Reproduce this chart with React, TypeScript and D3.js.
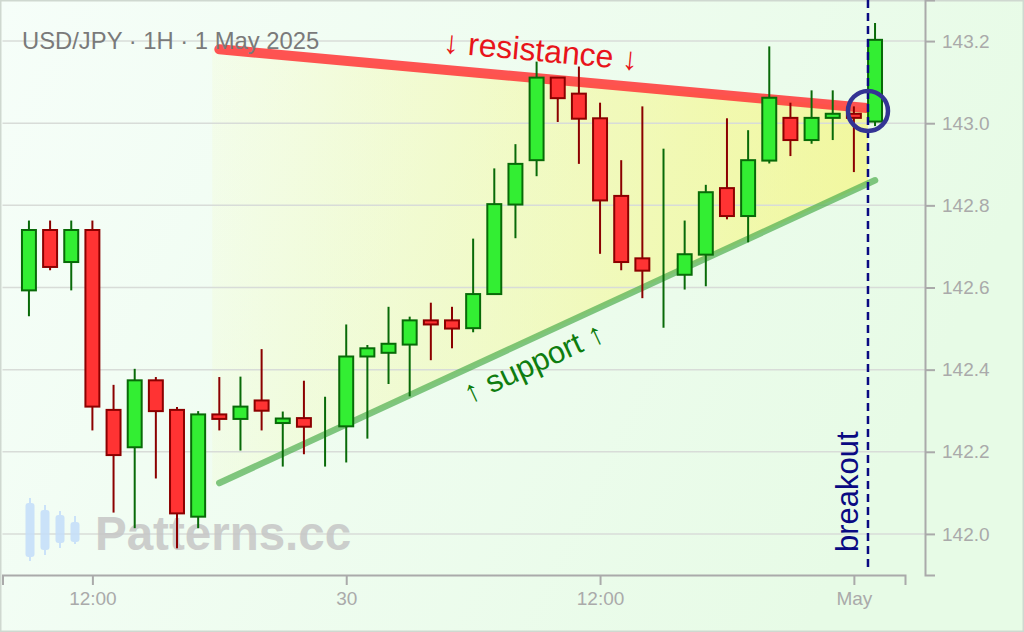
import React, { useEffect, useRef } from 'react'
import * as d3 from 'd3'

const WIDTH = 1024
const HEIGHT = 632
const FONT = '"Liberation Sans", Arial, Helvetica, sans-serif'

// plot box
const X0 = 2.5
const X1 = 905
const Y_AXIS_X = 925
const X_AXIS_Y = 575

// hourly candles, UTC
const hours = [
  '2025-04-29T09:00Z', '2025-04-29T10:00Z', '2025-04-29T11:00Z', '2025-04-29T12:00Z',
  '2025-04-29T13:00Z', '2025-04-29T14:00Z', '2025-04-29T15:00Z', '2025-04-29T16:00Z',
  '2025-04-29T17:00Z', '2025-04-29T18:00Z', '2025-04-29T19:00Z', '2025-04-29T20:00Z',
  '2025-04-29T21:00Z', '2025-04-29T22:00Z', '2025-04-29T23:00Z', '2025-04-30T00:00Z',
  '2025-04-30T01:00Z', '2025-04-30T02:00Z', '2025-04-30T03:00Z', '2025-04-30T04:00Z',
  '2025-04-30T05:00Z', '2025-04-30T06:00Z', '2025-04-30T07:00Z', '2025-04-30T08:00Z',
  '2025-04-30T09:00Z', '2025-04-30T10:00Z', '2025-04-30T11:00Z', '2025-04-30T12:00Z',
  '2025-04-30T13:00Z', '2025-04-30T14:00Z', '2025-04-30T15:00Z', '2025-04-30T16:00Z',
  '2025-04-30T17:00Z', '2025-04-30T18:00Z', '2025-04-30T19:00Z', '2025-04-30T20:00Z',
  '2025-04-30T21:00Z', '2025-04-30T22:00Z', '2025-04-30T23:00Z', '2025-05-01T00:00Z',
  '2025-05-01T01:00Z',
]
const opens = [
  142.593, 142.740, 142.662, 142.740, 142.302, 142.211, 142.374, 142.302, 142.042, 142.291,
  142.280, 142.325, 142.270, 142.282, 142.300, 142.262, 142.432, 142.441, 142.461, 142.520,
  142.520, 142.501, 142.584, 142.802, 142.910, 143.111, 143.072, 143.012, 142.823, 142.671,
  142.650, 142.631, 142.680, 142.842, 142.774, 142.909, 143.013, 142.959, 143.013, 143.023,
  143.004,
]
const highs = [
  142.763, 142.763, 142.763, 142.763, 142.363, 142.402, 142.382, 142.309, 142.299, 142.382,
  142.383, 142.450, 142.298, 142.373, 142.334, 142.510, 142.460, 142.553, 142.529, 142.563,
  142.553, 142.719, 142.890, 142.949, 143.150, 143.111, 143.138, 143.050, 142.910, 143.041,
  142.938, 142.763, 142.850, 143.012, 142.983, 143.187, 143.050, 143.080, 143.080, 143.041,
  143.244,
]
const lows = [
  142.530, 142.642, 142.593, 142.252, 142.052, 142.014, 142.135, 141.965, 142.014, 142.252,
  142.203, 142.252, 142.164, 142.194, 142.164, 142.174, 142.232, 142.365, 142.335, 142.423,
  142.452, 142.491, 142.584, 142.720, 142.871, 143.003, 142.901, 142.682, 142.642, 142.574,
  142.502, 142.595, 142.603, 142.766, 142.710, 142.902, 142.920, 142.950, 142.959, 142.881,
  142.993,
]
const closes = [
  142.740, 142.650, 142.740, 142.310, 142.192, 142.374, 142.299, 142.050, 142.291, 142.280,
  142.310, 142.300, 142.281, 142.261, 142.300, 142.432, 142.452, 142.463, 142.520, 142.510,
  142.500, 142.584, 142.803, 142.901, 143.111, 143.061, 143.011, 142.812, 142.662, 142.641,
  142.650, 142.681, 142.832, 142.774, 142.910, 143.062, 142.959, 143.013, 143.023, 143.013,
  143.203,
]

const priceTicks = [142.0, 142.2, 142.4, 142.6, 142.8, 143.0, 143.2]
const timeDomain = ['2025-04-29T07:45Z', '2025-05-01T02:25Z']
const priceDomain = [141.9, 143.3]

// trend lines (time, price)
const resistanceLine = [
  { t: '2025-04-29T18:00Z', p: 143.18 },
  { t: '2025-05-01T01:00Z', p: 143.035 },
]
const supportLine = [
  { t: '2025-04-29T18:00Z', p: 142.124 },
  { t: '2025-05-01T01:00Z', p: 142.861 },
]
const zoneSpan = ['2025-04-29T17:40Z', '2025-05-01T00:40Z']
const breakoutTime = '2025-05-01T00:40Z'
const breakoutPrice = 143.03
const resLabelTime = '2025-04-30T09:05Z'
const supLabelTime = '2025-04-30T08:25Z'

const TITLE = 'USD/JPY · 1H · 1 May 2025'

// little logo next to the watermark: [x, wickTop, bodyTop, bodyBottom, wickBottom]
const LOGO = [
  [30, 498, 503, 557, 561],
  [45, 505, 510, 550, 555],
  [60, 511, 515, 543, 548],
  [75, 516, 522, 542, 544],
]

type Pt = { t: string, p: number }

export default function App() {
  const xAxisRef = useRef<SVGGElement>(null)
  const yAxisRef = useRef<SVGGElement>(null)

  const x = d3.scaleUtc()
    .domain(timeDomain.map((d) => new Date(d)))
    .range([X0, X1])
  const y = d3.scaleLinear()
    .domain(priceDomain)
    .range([X_AXIS_Y, 0])

  const data = hours.map((h, i) => ({
    t: new Date(h), o: opens[i], h: highs[i], l: lows[i], c: closes[i],
  }))
  const step = x(data[1].t) - x(data[0].t)
  const bodyW = step * 0.66

  // trend line value at a given time
  const lineAt = (line: Pt[], t: Date) => {
    const s = d3.scaleUtc()
      .domain([new Date(line[0].t), new Date(line[1].t)])
      .range([line[0].p, line[1].p])
    return s(t)
  }

  const zoneTimes = zoneSpan.map((d) => new Date(d))
  const zonePath = d3.area<Date>()
    .x((d) => x(d))
    .y0((d) => y(lineAt(supportLine, d)))
    .y1((d) => y(lineAt(resistanceLine, d)))(zoneTimes)

  const linePath = (line: Pt[]) =>
    d3.line<Pt>()
      .x((d) => x(new Date(d.t)))
      .y((d) => y(d.p))(line)

  const angleOf = (line: Pt[]) => {
    const dx = x(new Date(line[1].t)) - x(new Date(line[0].t))
    const dy = y(line[1].p) - y(line[0].p)
    return (Math.atan2(dy, dx) * 180) / Math.PI
  }

  const rt = new Date(resLabelTime)
  const st = new Date(supLabelTime)
  const resLabel = { x: x(rt), y: y(lineAt(resistanceLine, rt)), a: angleOf(resistanceLine) }
  const supLabel = { x: x(st), y: y(lineAt(supportLine, st)), a: angleOf(supportLine) }

  const bx = x(new Date(breakoutTime))

  useEffect(() => {
    const fmt = (d: Date) => {
      if (d.getUTCHours() === 0 && d.getUTCDate() === 1) return d3.utcFormat('%b')(d)
      if (d.getUTCHours() === 0) return d3.utcFormat('%d')(d)
      return d3.utcFormat('%H:%M')(d)
    }
    const gx = d3.select(xAxisRef.current)
    gx.selectAll('*').remove()
    gx.call(
      d3.axisBottom(x)
        .ticks(d3.utcHour.every(12))
        .tickFormat(fmt as any)
        .tickSize(10)
        .tickPadding(7)
    )
    const gy = d3.select(yAxisRef.current)
    gy.selectAll('*').remove()
    gy.call(
      d3.axisRight(y)
        .tickValues(priceTicks)
        .tickFormat(d3.format('.1f'))
        .tickSize(10)
        .tickPadding(7)
    )
    for (const g of [gx, gy]) {
      g.select('.domain').attr('stroke', '#aaa').attr('stroke-width', 2)
      g.selectAll('.tick line').attr('stroke', '#aaa').attr('stroke-width', 2)
      g.selectAll('.tick text')
        .attr('fill', '#aaa')
        .attr('font-size', 19)
        .attr('font-family', FONT)
    }
  }, [])

  return (
    <div>
      <style>{'body{margin:0}'}</style>
      <svg width={WIDTH} height={HEIGHT} style={{ display: 'block' }}>
        <defs>
          <linearGradient id="bg" x1="0" y1="0" x2="1" y2="0.3">
            <stop offset="0%" stopColor="#f6fef9" />
            <stop offset="100%" stopColor="#e7fbe6" />
          </linearGradient>
          <linearGradient id="zone" x1="0" y1="0" x2="1" y2="0">
            <stop offset="0%" stopColor="#f7f56e" stopOpacity={0.08} />
            <stop offset="100%" stopColor="#f7f56e" stopOpacity={0.6} />
          </linearGradient>
        </defs>
        <rect x={0.75} y={0.75} width={WIDTH - 1.5} height={HEIGHT - 1.5} fill="url(#bg)" stroke="#cfd8d0" strokeWidth={1.5} />

        {/* triangle zone */}
        <path d={zonePath || ''} fill="url(#zone)" />

        {/* grid */}
        {priceTicks.map((p) => (
          <line key={p} x1={X0} x2={Y_AXIS_X} y1={y(p)} y2={y(p)} stroke="#d8dcd8" strokeWidth={1.5} />
        ))}

        {/* watermark */}
        <g opacity={0.85}>
          {LOGO.map(([cx, wt, bt, bb, wb], i) => (
            <g key={i} fill="#c4defa" stroke="#c4defa">
              <line x1={cx} x2={cx} y1={wt} y2={wb} strokeWidth={2} />
              <rect x={cx - 4.5} y={bt} width={9} height={bb - bt} rx={3} stroke="none" />
            </g>
          ))}
          <text x={95} y={550} fontFamily={FONT} fontWeight="bold" fontSize={47.5} fill="#c6c6c6">Patterns.cc</text>
        </g>

        {/* trend lines */}
        <path d={linePath(resistanceLine) || ''} stroke="#ff3b3b" strokeOpacity={0.88} strokeWidth={10} strokeLinecap="round" fill="none" />
        <path d={linePath(supportLine) || ''} stroke="#4fae4f" strokeOpacity={0.7} strokeWidth={6.5} strokeLinecap="round" fill="none" />

        {/* candles */}
        {data.map((d, i) => {
          const up = d.c >= d.o
          const stroke = up ? '#086a08' : '#8b0000'
          const fill = up ? '#33ee33' : '#ff3333'
          const cx = x(d.t)
          const top = y(Math.max(d.o, d.c))
          const bot = y(Math.min(d.o, d.c))
          return (
            <g key={i}>
              <line x1={cx} x2={cx} y1={y(d.h)} y2={y(d.l)} stroke={stroke} strokeWidth={2} />
              <rect x={cx - bodyW / 2} y={top} width={bodyW} height={bot - top} fill={fill} stroke={stroke} strokeWidth={2} />
            </g>
          )
        })}

        {/* title */}
        <text x={22} y={49} fontFamily={FONT} fontSize={23.8} fill="#7a7a7a">{TITLE}</text>

        {/* labels along the lines */}
        <text
          transform={`translate(${resLabel.x},${resLabel.y}) rotate(${resLabel.a})`}
          y={-17}
          textAnchor="middle"
          fontFamily={FONT}
          fontSize={32}
          fill="#e8141a"
        >↓ resistance ↓</text>
        <text
          transform={`translate(${supLabel.x},${supLabel.y}) rotate(${supLabel.a})`}
          y={33}
          textAnchor="middle"
          fontFamily={FONT}
          fontSize={31}
          fill="#0f7d0f"
        >↑ support ↑</text>

        {/* breakout */}
        <line x1={bx} x2={bx} y1={0} y2={X_AXIS_Y - 4} stroke="#0a0a82" strokeWidth={2.5} strokeDasharray="8,5" />
        <circle cx={bx} cy={y(breakoutPrice)} r={20} fill="none" stroke="#343494" strokeWidth={4.5} />
        <text
          transform={`translate(${bx - 10},${X_AXIS_Y - 23}) rotate(-90)`}
          fontFamily={FONT}
          fontSize={31}
          fill="#0a0a82"
        >breakout</text>

        <g ref={xAxisRef} transform={`translate(0,${X_AXIS_Y})`} />
        <g ref={yAxisRef} transform={`translate(${Y_AXIS_X},0)`} />
      </svg>
    </div>
  )
}
